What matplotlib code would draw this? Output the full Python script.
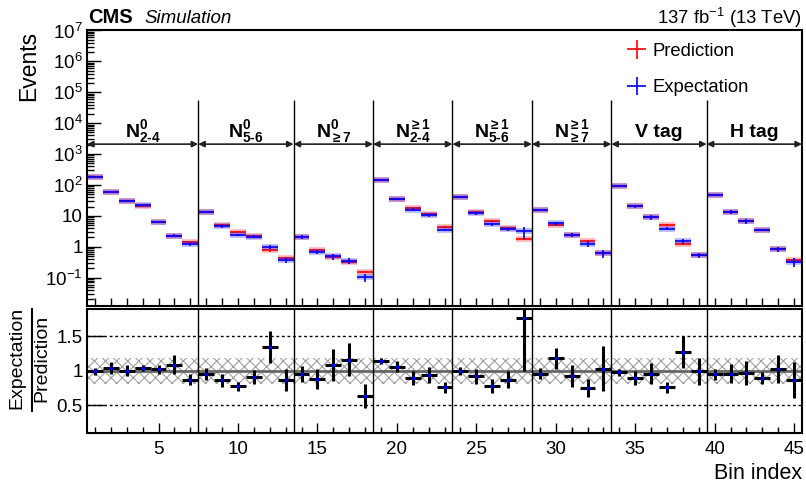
import matplotlib
matplotlib.use('Agg')
import matplotlib.pyplot as plt
import numpy as np
from matplotlib.lines import Line2D
from matplotlib.ticker import LogLocator, FuncFormatter, NullFormatter, MultipleLocator, FixedLocator

plt.rcParams['font.family'] = ['Liberation Sans', 'DejaVu Sans']
plt.rcParams['mathtext.fontset'] = 'custom'
plt.rcParams['mathtext.rm'] = 'Liberation Sans'
plt.rcParams['mathtext.it'] = 'Liberation Sans:italic'
plt.rcParams['mathtext.bf'] = 'Liberation Sans:bold'
plt.rcParams['hatch.linewidth'] = 0.8

# bin contents
bins = np.arange(1, 46)
prediction = [184, 57.6, 30.9, 21.5, 6.4, 2.2, 1.39,
              13.6, 5.04, 3.06, 2.27, 0.76, 0.42,
              2.1, 0.76, 0.46, 0.31, 0.152,
              141, 35.7, 17.5, 11.2, 4.44,
              41.5, 13.0, 6.79, 3.94, 1.77,
              15.4, 5.04, 2.44, 1.56, 0.61,
              94, 20.8, 8.9, 5.04, 1.25, 0.54,
              47, 13.6, 6.9, 3.47, 0.843, 0.37]
expectation = [184, 57.6, 30.9, 22.0, 6.4, 2.3, 1.20,
               13.6, 4.57, 2.39, 2.11, 1.0, 0.37,
               2.1, 0.674, 0.49, 0.352, 0.102,
               148, 35.7, 15.8, 10.4, 3.47,
               41.5, 12.0, 5.3, 3.65, 3.15,
               15.4, 5.7, 2.44, 1.2, 0.61,
               94, 20.8, 8.9, 3.83, 1.56, 0.54,
               47, 13.6, 6.9, 3.47, 0.843, 0.327]
# relative uncertainties
pred_rel = [0.02, 0.03, 0.03, 0.03, 0.04, 0.05, 0.06,
            0.03, 0.05, 0.05, 0.05, 0.08, 0.08,
            0.04, 0.06, 0.07, 0.08, 0.10,
            0.02, 0.03, 0.04, 0.04, 0.06,
            0.03, 0.04, 0.05, 0.06, 0.09,
            0.03, 0.05, 0.05, 0.07, 0.09,
            0.02, 0.04, 0.05, 0.06, 0.08, 0.09,
            0.03, 0.04, 0.05, 0.06, 0.08, 0.10]
exp_rel = [0.05, 0.08, 0.08, 0.04, 0.06, 0.12, 0.09,
           0.09, 0.12, 0.08, 0.11, 0.17, 0.18,
           0.12, 0.16, 0.21, 0.21, 0.27,
           0.04, 0.08, 0.11, 0.12, 0.10,
           0.06, 0.12, 0.13, 0.14, 0.43,
           0.09, 0.13, 0.17, 0.17, 0.31,
           0.05, 0.11, 0.16, 0.11, 0.18, 0.20,
           0.08, 0.15, 0.18, 0.09, 0.20, 0.30]
ratio = [0.99, 1.04, 1.00, 1.04, 1.02, 1.09, 0.87,
         0.95, 0.86, 0.78, 0.91, 1.34, 0.87,
         0.96, 0.88, 1.08, 1.16, 0.64,
         1.14, 1.06, 0.89, 0.94, 0.76,
         1.00, 0.92, 0.78, 0.87, 1.76,
         0.96, 1.18, 0.93, 0.75, 1.03,
         0.98, 0.90, 0.96, 0.76, 1.27, 0.99,
         0.95, 0.96, 0.97, 0.90, 1.02, 0.87]
ratio_err = [0.05, 0.08, 0.077, 0.04, 0.06, 0.13, 0.08,
             0.09, 0.10, 0.065, 0.10, 0.23, 0.16,
             0.115, 0.14, 0.23, 0.24, 0.17,
             0.04, 0.08, 0.10, 0.11, 0.075,
             0.06, 0.11, 0.10, 0.12, 0.76,
             0.085, 0.15, 0.16, 0.13, 0.32,
             0.05, 0.10, 0.15, 0.08, 0.23, 0.20,
             0.08, 0.14, 0.17, 0.085, 0.20, 0.26]
syst_band = [0.81, 1.19]

group_edges = [0.5, 7.5, 13.5, 18.5, 23.5, 28.5, 33.5, 39.5, 45.5]
group_labels = [r'$\mathbf{N}^{\mathbf{0}}_{\mathbf{2‐4}}$',
                r'$\mathbf{N}^{\mathbf{0}}_{\mathbf{5‐6}}$',
                r'$\mathbf{N}^{\mathbf{0}}_{\mathbf{\geq 7}}$',
                r'$\mathbf{N}^{\mathbf{\geq 1}}_{\mathbf{2‐4}}$',
                r'$\mathbf{N}^{\mathbf{\geq 1}}_{\mathbf{5‐6}}$',
                r'$\mathbf{N}^{\mathbf{\geq 1}}_{\mathbf{\geq 7}}$',
                'V tag', 'H tag']

W, H = 806, 486
fig = plt.figure(figsize=(W / 100, H / 100), dpi=100)
ax1 = fig.add_axes([87 / W, 1 - 306 / H, 715 / W, 275.5 / H])
ax2 = fig.add_axes([87 / W, 1 - 432.5 / H, 715 / W, 123.5 / H])

pred = np.array(prediction)
expc = np.array(expectation)

# upper panel
for y, rel, col, lab in [(pred, np.array(pred_rel), 'red', 'Prediction'),
                         (expc, np.array(exp_rel), 'blue', 'Expectation')]:
    ax1.hlines(y, bins - 0.5, bins + 0.5, colors=col, lw=4, alpha=0.3)
    ax1.errorbar(bins, y, xerr=0.5, yerr=y * rel, fmt='none', ecolor=col,
                 elinewidth=1.2, label=lab)

ax1.set_yscale('log')
ax1.set_ylim(0.0121, 1.0e7)
ax1.set_xlim(0.5, 45.5)
ax1.yaxis.set_major_locator(LogLocator(base=10, numticks=20))
ax1.yaxis.set_minor_locator(LogLocator(base=10, subs=np.arange(2, 10), numticks=20))
ax1.yaxis.set_minor_formatter(NullFormatter())


def logfmt(v, pos):
    n = int(round(np.log10(v)))
    if n == 0:
        return '1'
    if n == 1:
        return '10'
    return r'$10^{%d}$' % n


ax1.yaxis.set_major_formatter(FuncFormatter(logfmt))
ax1.xaxis.set_major_locator(MultipleLocator(1))
ax1.xaxis.set_major_formatter(NullFormatter())
ax1.tick_params(axis='x', which='major', direction='in', length=6, width=1, bottom=True, top=False)
ax1.tick_params(axis='y', which='major', direction='in', length=10, width=1, labelsize=13.5, pad=3)
ax1.tick_params(axis='y', which='minor', direction='in', length=5, width=1)
ax1.set_ylabel('Events', fontsize=16.5, loc='top', labelpad=4)

for e in group_edges[1:-1]:
    ax1.vlines(e, ax1.get_ylim()[0], 5.6e4, colors='black', lw=1)
for i in range(len(group_labels)):
    a, b = group_edges[i], group_edges[i + 1]
    ax1.annotate('', xy=(a, 2.1e3), xytext=(b, 2.1e3),
                 arrowprops=dict(arrowstyle='<|-|>', color='#222222', lw=1.2,
                                 shrinkA=0, shrinkB=0, mutation_scale=9))
    ax1.text((a + b) / 2, 3.5e3, group_labels[i], ha='center', va='baseline',
             fontsize=14, fontweight='bold')

ax1.legend(loc='upper left', bbox_to_anchor=(0.754, 0.955), frameon=False,
           fontsize=13.3, handlelength=1.15, handletextpad=0.3, borderpad=0,
           borderaxespad=0, labelspacing=1.05)

fig.text(88 / W, 1 - 23 / H, 'CMS', fontsize=14.5, fontweight='bold')
fig.text(144 / W, 1 - 23 / H, 'Simulation', fontsize=13.5, style='italic')
fig.text(802 / W, 1 - 24 / H, r'137 fb$^{-1}$ (13 TeV)', fontsize=13.3, ha='right')

# ratio panel
ax2.fill_between([0.5, 45.5], syst_band[0], syst_band[1], facecolor='none',
                 edgecolor='#a0a0a0', hatch='xxx', lw=0)
ax2.axhline(1.0, color='#666666', lw=2)
ax2.axhline(0.5, color='black', lw=1, ls=(0, (2, 2)))
ax2.axhline(1.5, color='black', lw=1, ls=(0, (2, 2)))
for e in group_edges[1:-1]:
    ax2.axvline(e, color='black', lw=1)
ax2.errorbar(bins, ratio, xerr=0.5, yerr=ratio_err, fmt='o', ms=1.8,
             mfc='blue', mec='blue', ecolor='black', elinewidth=2.2, zorder=5)
ax2.set_xlim(0.5, 45.5)
ax2.set_ylim(0.11, 1.89)
ax2.yaxis.set_major_locator(FixedLocator([0.5, 1.0, 1.5]))
ax2.yaxis.set_major_formatter(FuncFormatter(lambda v, p: '%g' % v))
ax2.xaxis.set_major_locator(MultipleLocator(5))
ax2.xaxis.set_minor_locator(MultipleLocator(1))
ax2.tick_params(axis='x', which='major', direction='in', length=7, width=1, labelsize=13.5, pad=6)
ax2.tick_params(axis='x', which='minor', direction='in', length=4, width=1)
ax2.tick_params(axis='y', which='major', direction='in', length=12, width=1, labelsize=13.5, pad=3)
ax2.set_xlabel('Bin index', fontsize=15.5, loc='right', labelpad=4)

# ratio axis title drawn as a stacked fraction
fig.text(17 / W, 1 - 358 / H, 'Expectation', rotation=90, ha='center', va='center', fontsize=14)
fig.text(42 / W, 1 - 358 / H, 'Prediction', rotation=90, ha='center', va='center', fontsize=14)
fig.add_artist(Line2D([31.5 / W, 31.5 / W], [1 - 309 / H, 1 - 411 / H], color='black', lw=1.5))

for ax in (ax1, ax2):
    for s in ax.spines.values():
        s.set_linewidth(1.5)

fig.savefig('out.png', dpi=100)
